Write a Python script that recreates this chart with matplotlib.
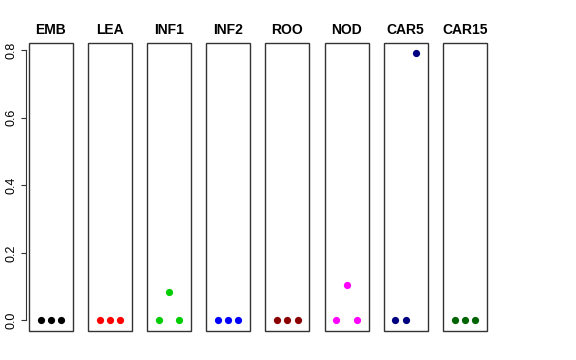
import matplotlib
matplotlib.use("Agg")
import matplotlib.pyplot as plt
from matplotlib.patches import Rectangle

# donnees par tissu
tissues = ["EMB", "LEA", "INF1", "INF2", "ROO", "NOD", "CAR5", "CAR15"]
emb = [0.0, 0.0, 0.0]
lea = [0.0, 0.0, 0.0]
inf1 = [0.0, 0.085, 0.0]
inf2 = [0.0, 0.0, 0.0]
roo = [0.0, 0.0, 0.0]
nod = [0.0, 0.104, 0.0]
car5 = [0.0, 0.0, 0.792]
car15 = [0.0, 0.0, 0.0]
values = [emb, lea, inf1, inf2, roo, nod, car5, car15]
colors = ["#000000", "#FF0000", "#00CD00", "#0000FF", "#8B0000", "#FF00FF", "#000080", "#006400"]
yticks = [0.0, 0.2, 0.4, 0.6, 0.8]

plt.rcParams['font.family'] = ['Liberation Sans', 'DejaVu Sans']

W, H = 576, 360
fig = plt.figure(figsize=(W / 100, H / 100), dpi=100)

for i, (name, vals, col) in enumerate(zip(tissues, values, colors)):
	x0 = 29 + i * 59.1
	ax = fig.add_axes([x0 / W, 1 - 331 / H, 44 / W, 288 / H])
	ax.plot([1, 2, 3], vals, 'o', color=col, markersize=5.2, markeredgewidth=0)
	ax.set_xlim(-0.16, 4.16)
	ax.set_ylim(-0.0316, 0.8216)
	ax.set_xticks([])
	for s in ax.spines.values():
		s.set_visible(False)
	ax.add_patch(Rectangle((0, 0), 1, 1, transform=ax.transAxes, fill=False,
		edgecolor="#333333", linewidth=1.0, clip_on=False))
	ax.set_title(name, fontsize=10, fontweight='bold', pad=6.5)
	if i == 0:
		ax.spines['left'].set_visible(True)
		ax.spines['left'].set_position(('outward', 2.5))
		ax.spines['left'].set_bounds(0, 0.8)
		ax.spines['left'].set_color("#333333")
		ax.set_yticks(yticks)
		ax.set_yticklabels(["%.1f" % v for v in yticks], rotation=90, va='center', fontsize=9)
		ax.tick_params(axis='y', length=3.6, color="#333333", pad=2)
	else:
		ax.set_yticks([])

fig.savefig("out.png", dpi=100)
